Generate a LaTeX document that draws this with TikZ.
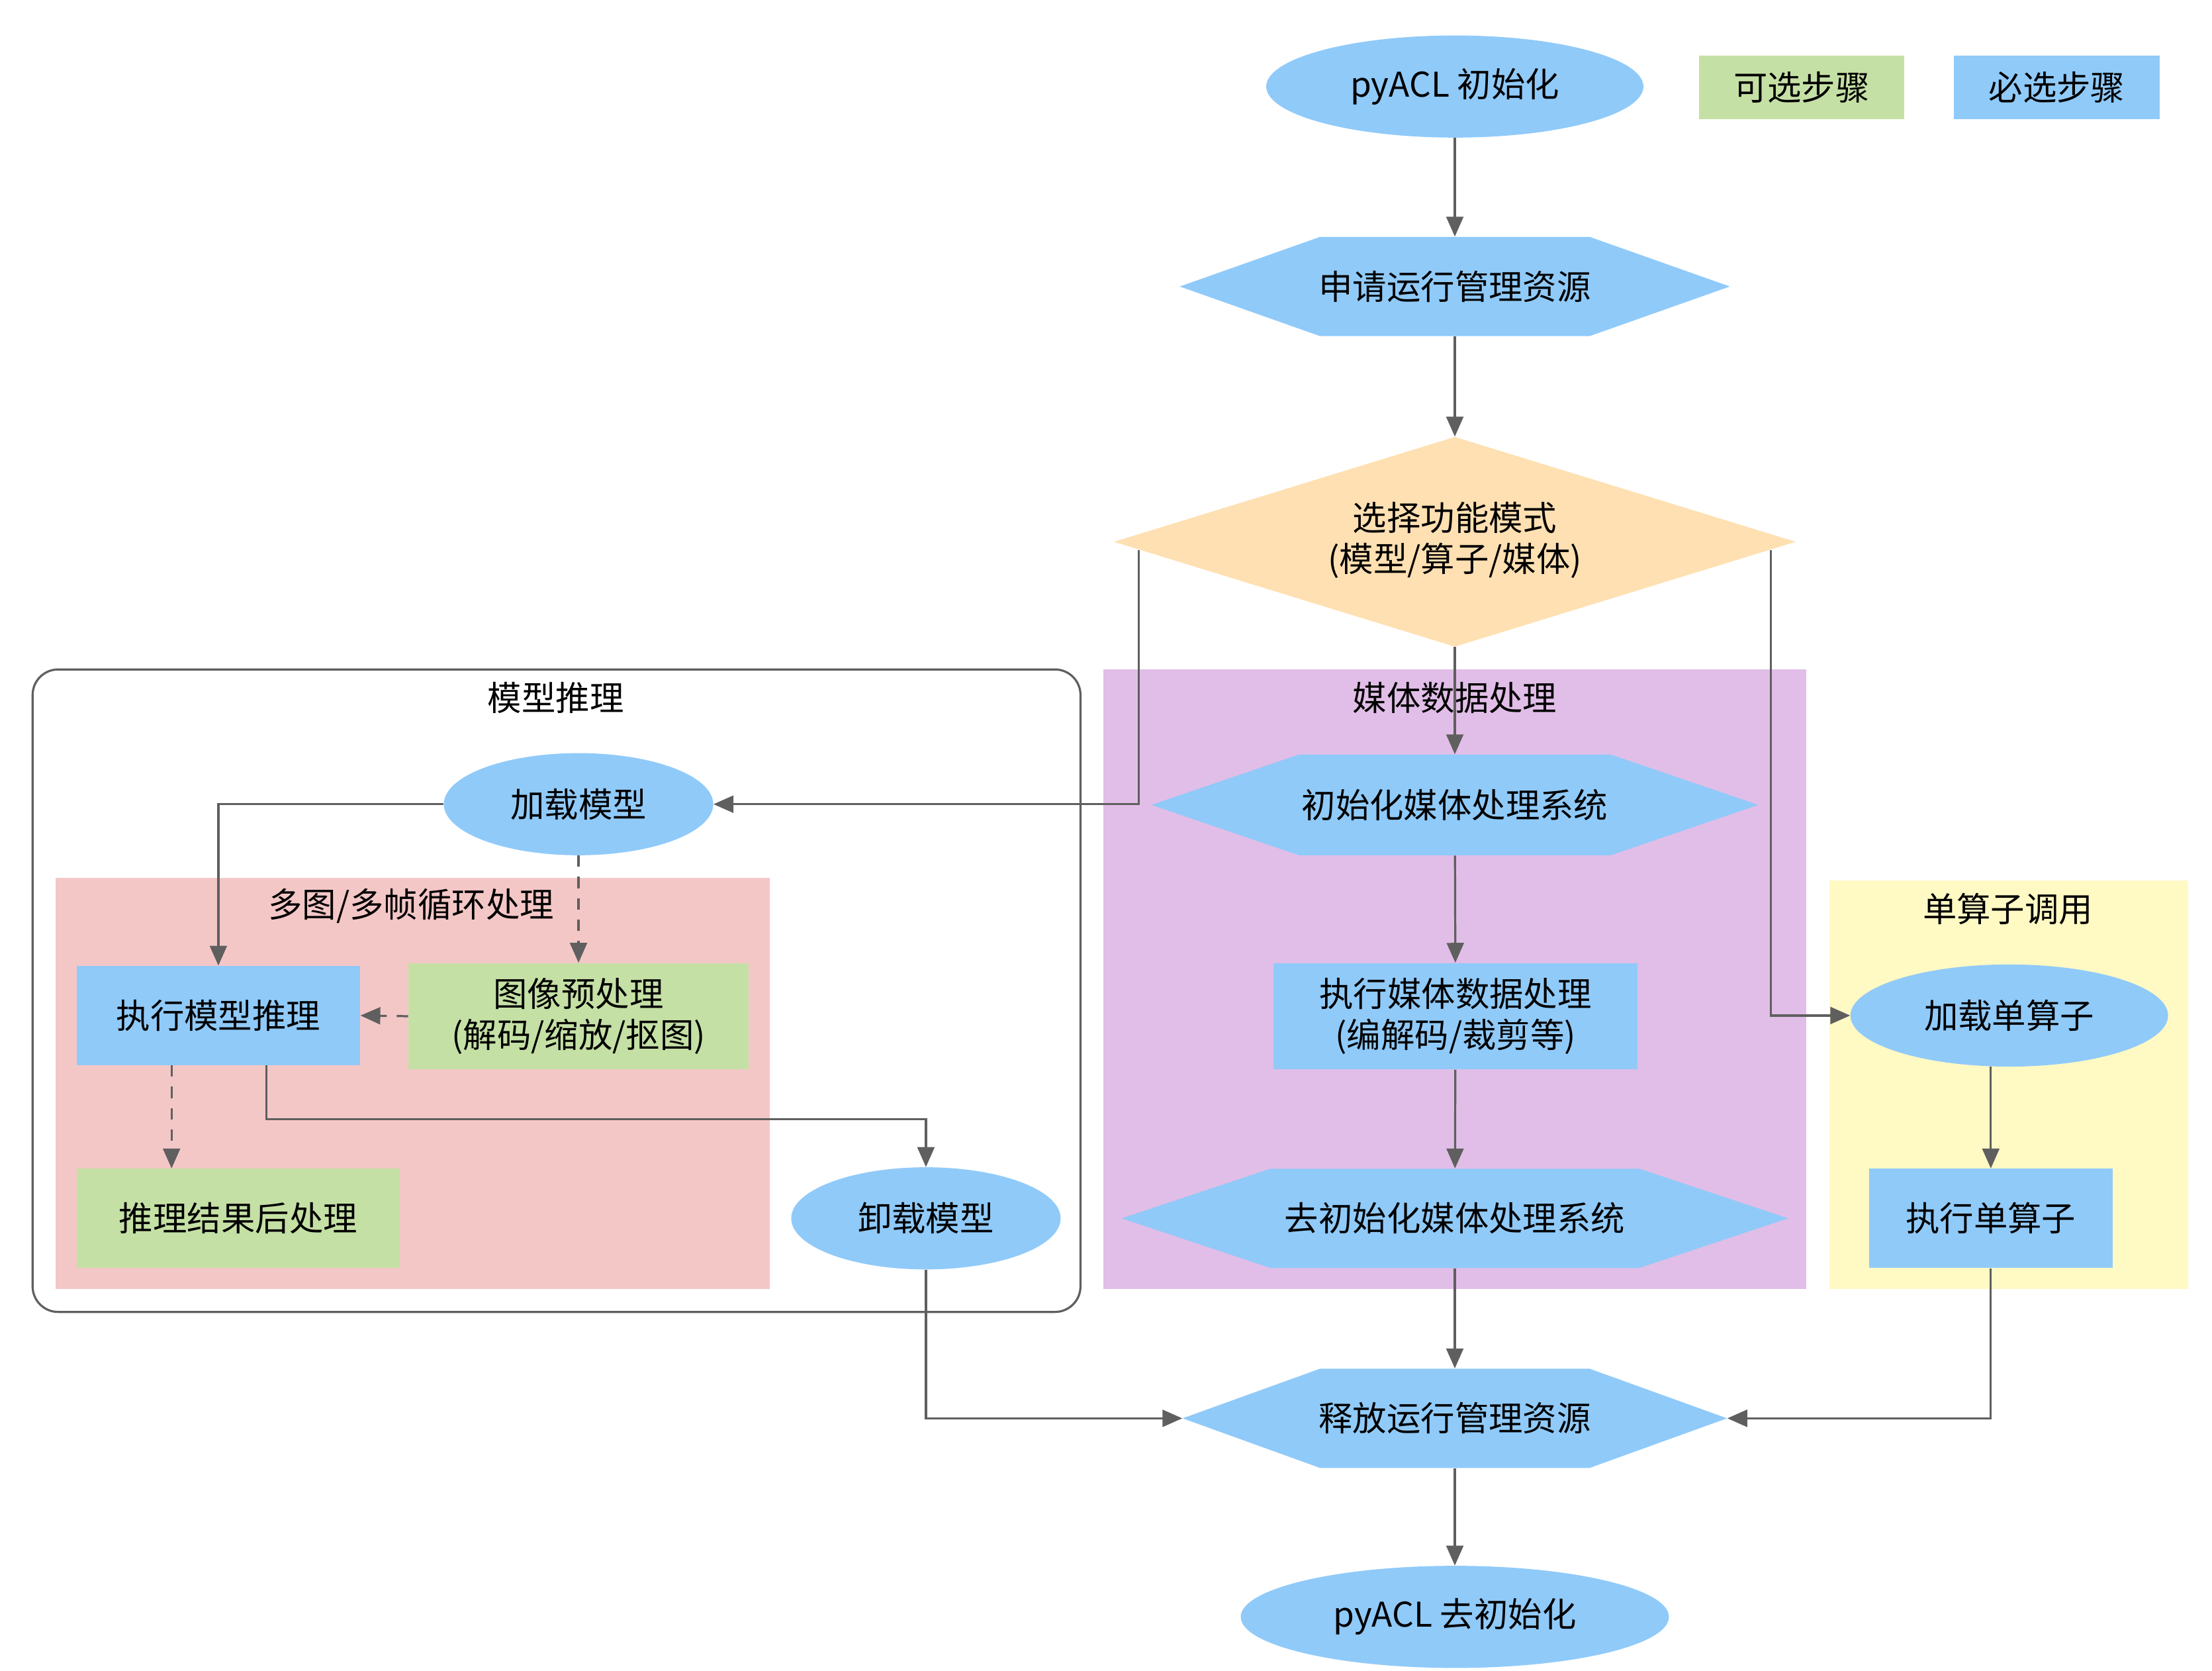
\documentclass[tikz,border=0pt]{standalone}
\usepackage{fontspec}
\setmainfont{Noto Sans CJK SC}
\usetikzlibrary{shapes.geometric,arrows.meta}
\definecolor{blu}{RGB}{144,202,249}
\definecolor{grn}{RGB}{197,224,165}
\definecolor{org}{RGB}{255,224,178}
\definecolor{pur}{RGB}{225,190,231}
\definecolor{yel}{RGB}{255,249,196}
\definecolor{pnk}{RGB}{244,199,199}
\definecolor{edg}{RGB}{95,95,95}
\newcommand\hexnode[7]{%
  \fill[blu] (#2-#4,#3) -- (#2-#5,#3-#6) -- (#2+#5,#3-#6) -- (#2+#4,#3) -- (#2+#5,#3+#6) -- (#2-#5,#3+#6) -- cycle;
  \node[txt,minimum width=2*#4,minimum height=2*#6] (#1) at (#2,#3) {#7};}
\begin{document}
\begin{tikzpicture}[x=1pt,y=-1pt,font=\fontsize{24}{29}\selectfont,
  txt/.style={inner sep=0,align=center},
  ell/.style={ellipse,fill=blu,inner sep=0,align=center,minimum height=72},
  box/.style={rectangle,fill=blu,inner sep=0,align=center},
  opt/.style={rectangle,fill=grn,inner sep=0,align=center},
  ar/.style={draw=edg,line width=1.5pt,-{Triangle[length=14pt,width=12pt]}},
  da/.style={ar,dash pattern=on 8pt off 7pt}]
\useasboundingbox (0,0) rectangle (1560,1178);
% containers
\draw[edg,line width=1.5pt,rounded corners=18] (23,472) rectangle (762,925);
\node[txt] (lm) at (392,492) {模型推理};
\fill[pur] (778,472) rectangle (1274,909);
\node[txt] (lmd) at (1026,492) {媒体数据处理};
\fill[yel] (1290,621) rectangle (1543,909);
\node[txt] (ls) at (1416,641) {单算子调用};
\fill[pnk] (39,619) rectangle (543,909);
% legend
\node[opt,minimum width=145,minimum height=45] (lg1) at (1270.5,61.5) {可选步骤};
\node[box,minimum width=145,minimum height=45] (lg2) at (1450.5,61.5) {必选步骤};
% main
\node[ell,minimum width=266] (init) at (1026,61) {pyACL 初始化};
\hexnode{apply}{1026}{202}{194}{95}{35}{申请运行管理资源}
\node[diamond,fill=org,inner sep=0,minimum width=481,minimum height=148,align=center] (sel) at (1026,382) {};
\node[txt] (selt) at (1026,381) {选择功能模式\\(模型/算子/媒体)};
% model
\node[ell,minimum width=190] (load) at (408,567) {加载模型};
\node[box,minimum width=200,minimum height=70] (exe) at (154,716) {执行模型推理};
\node[opt,minimum width=240,minimum height=75] (pre) at (408,716.5) {图像预处理\\(解码/缩放/抠图)};
\node[opt,minimum width=228,minimum height=70] (post) at (168,859) {推理结果后处理};
\node[ell,minimum width=190] (unl) at (653,859) {卸载模型};
\node[txt] (lp) at (290,639) {多图/多帧循环处理};
% media
\hexnode{minit}{1026}{567.5}{214}{110}{35.5}{初始化媒体处理系统}
\node[box,minimum width=257,minimum height=75] (mexe) at (1026.5,716.5) {执行媒体数据处理\\(编解码/裁剪等)};
\hexnode{mdeinit}{1026}{859}{235}{130}{35}{去初始化媒体处理系统}
% single op
\node[ell,minimum width=224] (sload) at (1417,716) {加载单算子};
\node[box,minimum width=172,minimum height=70] (sexe) at (1404,859) {执行单算子};
% release
\hexnode{rel}{1026}{1000}{192}{95}{35}{释放运行管理资源}
\node[ell,minimum width=302] (fin) at (1026,1140) {pyACL 去初始化};
% coordinates
\coordinate (sl) at (803,388);
\coordinate (sr) at (1249,388);
% edges
\draw[ar] (init) -- (apply);
\draw[ar] (apply) -- (sel);
\draw[ar] (sel) -- (minit);
\draw[ar] (sl) |- (load.east);
\draw[ar] (sr) |- (sload.west);
\draw[ar] (load.west) -| (exe.north);
\draw[da] (load.south) -- (pre.north);
\draw[da] (pre.west) -- (exe.east);
\draw[da] ([xshift=-33]exe.south) -- ([xshift=-47]post.north);
\draw[ar] ([xshift=34]exe.south) |- (653,789) -- (unl.north);
\draw[ar] (unl.south) |- (rel.west);
\draw[ar] (minit) -- (mexe);
\draw[ar] (mexe) -- (mdeinit);
\draw[ar] (mdeinit) -- (rel);
\draw[ar] ([xshift=-13]sload.south) -- (sexe.north);
\draw[ar] (sexe.south) |- (rel.east);
\draw[ar] (rel) -- (fin);
\end{tikzpicture}
\end{document}
